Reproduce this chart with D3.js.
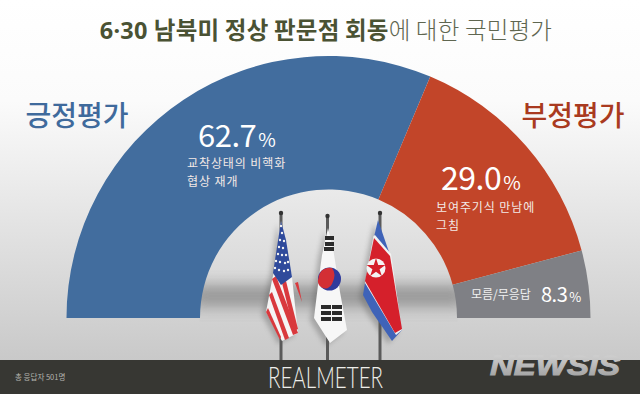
<!DOCTYPE html>
<html>
<head>
<meta charset="utf-8">
<script src="https://cdn.jsdelivr.net/npm/d3@7"></script>
<style>
  html, body { margin: 0; padding: 0; background: #fff; }
  svg { display: block; }
  text { font-family: "Noto Sans CJK KR", "Noto Sans", sans-serif; }
</style>
</head>
<body>
<div id="chart"></div>
<script>
// Values
const categories = ['긍정평가', '부정평가', '모름/무응답'];
const shares = [62.7, 29.0, 8.3];
const notes = [['교착상태의 비핵화', '협상 재개'], ['보여주기식 만남에', '그침'], []];
const sliceColors = ['#426d9e', '#c24529', '#7f8085'];

const width = 640, height = 394;
const centerX = 328.5, centerY = 318;
const outerR = 262, innerR = 128.5;
const footerY = 360;

const svg = d3.select('#chart').append('svg')
    .attr('width', width)
    .attr('height', height);

const defs = svg.append('defs');

const bg = defs.append('linearGradient').attr('id', 'bg')
    .attr('x1', 0).attr('y1', 0).attr('x2', 0).attr('y2', 1);
bg.append('stop').attr('offset', '0%').attr('stop-color', '#ffffff');
bg.append('stop').attr('offset', '28%').attr('stop-color', '#fbfbfb');
bg.append('stop').attr('offset', '100%').attr('stop-color', '#c9c9c9');

const newsisFill = defs.append('linearGradient').attr('id', 'newsisFill')
    .attr('x1', 0).attr('y1', 0).attr('x2', 0).attr('y2', 1);
newsisFill.append('stop').attr('offset', '0%').attr('stop-color', '#d8d8d8');
newsisFill.append('stop').attr('offset', '100%').attr('stop-color', '#9a9a9a');

defs.append('filter').attr('id', 'blur8')
    .attr('x', '-20%').attr('y', '-80%').attr('width', '140%').attr('height', '260%')
    .append('feGaussianBlur').attr('stdDeviation', 8);
defs.append('filter').attr('id', 'blur2')
    .attr('x', '-40%').attr('y', '-20%').attr('width', '180%').attr('height', '140%')
    .append('feGaussianBlur').attr('stdDeviation', 2.5);

defs.append('clipPath').attr('id', 'bowl')
    .append('circle').attr('cx', centerX).attr('cy', centerY).attr('r', innerR + 1);

svg.append('rect')
    .attr('width', width)
    .attr('height', footerY)
    .attr('fill', 'url(#bg)');

// Shadow band that falls across the inside of the ring
svg.append('g').attr('clip-path', 'url(#bowl)')
    .append('rect')
    .attr('x', centerX - innerR - 10)
    .attr('y', 286)
    .attr('width', (innerR + 10) * 2)
    .attr('height', 20)
    .attr('fill', '#858585')
    .attr('opacity', 0.85)
    .attr('filter', 'url(#blur8)');

// Half doughnut
const pie = d3.pie()
    .sort(null)
    .startAngle(-Math.PI / 2)
    .endAngle(Math.PI / 2);

const arc = d3.arc()
    .innerRadius(innerR)
    .outerRadius(outerR);

svg.append('g')
    .attr('transform', `translate(${centerX},${centerY})`)
    .selectAll('path')
    .data(pie(shares))
    .join('path')
    .attr('d', arc)
    .attr('fill', (d, i) => sliceColors[i]);

// Title
const title = svg.append('text')
    .attr('x', 326)
    .attr('y', 39)
    .attr('text-anchor', 'middle')
    .attr('font-size', 23.5)
    .attr('letter-spacing', 0.2);
title.append('tspan')
    .attr('font-weight', 700)
    .attr('fill', '#4a5233')
    .style('font-family', '"Noto Sans", sans-serif')
    .text('6·30 ');
title.append('tspan')
    .attr('font-weight', 700)
    .attr('fill', '#4a5233')
    .text('남북미 정상 판문점 회동');
title.append('tspan')
    .attr('font-weight', 300)
    .attr('fill', '#5f6650')
    .text('에 대한 국민평가');

// Side labels
svg.append('text')
    .attr('x', 77).attr('y', 126)
    .attr('text-anchor', 'middle')
    .attr('font-size', 28)
    .attr('font-weight', 500)
    .attr('fill', '#3f6a9c')
    .text(categories[0]);
svg.append('text')
    .attr('x', 573).attr('y', 126)
    .attr('text-anchor', 'middle')
    .attr('font-size', 28)
    .attr('font-weight', 500)
    .attr('fill', '#a93a20')
    .text(categories[1]);

// Value labels inside the slices
function valueLabel(x, y, value, size, pctSize) {
    const t = svg.append('text')
        .attr('x', x).attr('y', y)
        .attr('fill', '#fff')
        .attr('font-size', size)
        .attr('letter-spacing', -0.5);
    t.append('tspan').text(value.toFixed(1));
    t.append('tspan').attr('font-size', pctSize).attr('dx', 2).text('%');
}

function noteLabel(x, y, lines) {
    svg.append('g').selectAll('text')
        .data(lines)
        .join('text')
        .attr('x', x)
        .attr('y', (d, i) => y + i * 17.5)
        .attr('fill', '#f3e9e6')
        .attr('font-size', 12)
        .attr('letter-spacing', 0.9)
        .text(d => d);
}

valueLabel(198, 147, shares[0], 31, 19);
noteLabel(187, 168, notes[0]);

valueLabel(441, 190, shares[1], 32, 19);
noteLabel(436, 212, notes[1]);

svg.append('text')
    .attr('x', 471).attr('y', 299)
    .attr('fill', '#f0f0f0')
    .attr('font-size', 12)
    .text(categories[2]);
valueLabel(541, 302, shares[2], 20, 13);

// Flags are picture decoration, not data
const poles = [{ x: 281, y: 213 }, { x: 327.5, y: 216 }, { x: 380, y: 213 }];
const flagOutlines = [
    [[281, 221], [292, 277], [298, 333], [282, 341], [266, 312], [272, 280], [274, 272]],
    [[328, 228], [333, 248], [340, 292], [347, 330], [330, 343], [314, 318], [318, 285], [322, 255]],
    [[378, 220], [390, 255], [402, 330], [392, 341], [372, 312], [363, 295], [365, 283], [374, 237]]
];
const line = d3.line().curve(d3.curveLinearClosed);

svg.append('g').attr('filter', 'url(#blur2)').attr('opacity', 0.35)
    .selectAll('path')
    .data(flagOutlines)
    .join('path')
    .attr('transform', 'translate(-4,3)')
    .attr('d', d => line(d))
    .attr('fill', '#555');

svg.append('g').selectAll('line')
    .data(poles)
    .join('line')
    .attr('x1', d => d.x).attr('x2', d => d.x)
    .attr('y1', d => d.y).attr('y2', footerY)
    .attr('stroke', '#5a5a5a')
    .attr('stroke-width', 3);
svg.append('g').selectAll('circle')
    .data(poles)
    .join('circle')
    .attr('cx', d => d.x).attr('cy', d => d.y)
    .attr('r', 2.2)
    .attr('fill', '#333');

// US flag
const us = svg.append('g');
us.append('path').attr('d', line(flagOutlines[0])).attr('fill', '#f5f5f5');
us.append('g').selectAll('path')
    .data([
        [[272, 279], [276, 276], [298, 333], [293, 335]],
        [[269, 295], [272, 292], [289, 338], [285, 340]],
        [[266, 312], [268, 308], [281, 337], [280, 340]],
        [[282, 283], [286, 281], [298, 329], [294, 331]]
    ])
    .join('path')
    .attr('d', d => line(d))
    .attr('fill', '#d9393d');
us.append('path')
    .attr('d', line([[295, 283], [298, 282], [302, 302]]))
    .attr('fill', '#d9393d');
us.append('path')
    .attr('d', line([[281, 221], [286, 240], [292, 277], [281, 285], [273, 273]]))
    .attr('fill', '#2f4a9b');
us.append('g').selectAll('circle')
    .data([[281, 226], [282, 233], [280, 240], [284, 241], [279, 247], [283, 248], [278, 254], [282, 255], [286, 255], [276, 261], [280, 262], [285, 263], [288, 262], [275, 268], [279, 270], [284, 271], [288, 270]])
    .join('circle')
    .attr('cx', d => d[0]).attr('cy', d => d[1])
    .attr('r', 1.2)
    .attr('fill', '#f2f2f2');

// Korean flag
const kr = svg.append('g');
kr.append('path').attr('d', line(flagOutlines[1])).attr('fill', '#f7f7f7');
kr.append('circle').attr('cx', 329.5).attr('cy', 279).attr('r', 11.5).attr('fill', '#2f3a9c');
kr.append('path')
    .attr('d', 'M332 268 A11 11 0 0 0 318.5 278 A7 7 0 0 0 332 284 Q337 274 332 268 Z')
    .attr('fill', '#d32f35');
kr.append('g').selectAll('rect')
    .data([[325, 236, 9], [325, 242, 9], [324, 247, 10], [321, 305, 10], [332, 305, 10], [321, 311, 10], [332, 311, 10], [321, 317, 10], [332, 317, 10]])
    .join('rect')
    .attr('x', d => d[0]).attr('y', d => d[1])
    .attr('width', d => d[2]).attr('height', 4)
    .attr('fill', '#2b2b2b');

// North Korean flag
const nk = svg.append('g');
nk.append('path').attr('d', line(flagOutlines[2])).attr('fill', '#3f63b8');
nk.append('path')
    .attr('d', line([[373.5, 236], [375, 235], [391, 254], [402, 330], [396, 335], [365, 283]]))
    .attr('fill', '#f2f2f2');
nk.append('path')
    .attr('d', line([[374, 238], [390, 256], [402, 329], [395, 333], [365, 281]]))
    .attr('fill', '#d5202b');
nk.append('circle').attr('cx', 376).attr('cy', 268).attr('r', 9.5).attr('fill', '#f4f4f4');
nk.append('path')
    .attr('d', d3.symbol().type(d3.symbolStar).size(110)())
    .attr('transform', 'translate(376,268)')
    .attr('fill', '#d5202b');

// Footer
svg.append('rect')
    .attr('y', footerY)
    .attr('width', width)
    .attr('height', height - footerY)
    .attr('fill', '#373733');

svg.append('text')
    .attr('x', 15).attr('y', 380)
    .attr('fill', '#b5b5b0')
    .attr('font-size', 7.5)
    .text('총 응답자 501명');

svg.append('text')
    .attr('x', 268).attr('y', 387.5)
    .attr('textLength', 115)
    .attr('lengthAdjust', 'spacingAndGlyphs')
    .attr('fill', '#eeeeea')
    .attr('font-size', 29.5)
    .attr('font-weight', 300)
    .style('font-family', 'Lato, sans-serif')
    .text('REALMETER');

svg.append('text')
    .attr('x', 490).attr('y', 375)
    .attr('textLength', 130)
    .attr('lengthAdjust', 'spacingAndGlyphs')
    .attr('fill', 'url(#newsisFill)')
    .attr('stroke', 'url(#newsisFill)')
    .attr('stroke-width', 1)
    .attr('font-size', 27)
    .attr('font-weight', 700)
    .attr('font-style', 'italic')
    .style('font-family', '"Liberation Sans", sans-serif')
    .text('NEWSIS');
</script>
</body>
</html>
